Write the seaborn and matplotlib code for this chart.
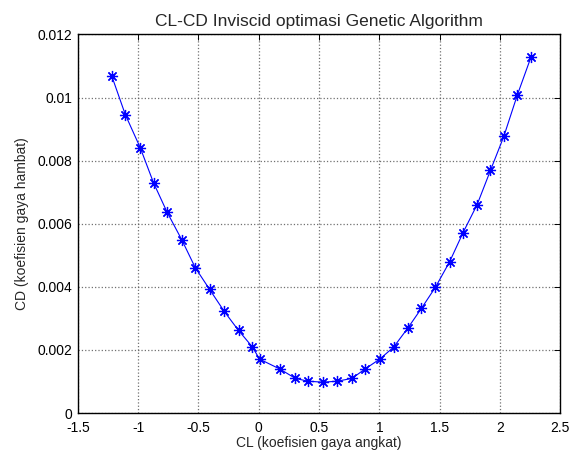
import matplotlib
matplotlib.use("Agg")
import matplotlib.pyplot as plt
import seaborn as sns
import pandas as pd

cl = [-1.218, -1.107, -0.983, -0.873, -0.762, -0.637, -0.527, -0.408, -0.286, -0.168,
      -0.056, 0.007, 0.178, 0.303, 0.408, 0.533, 0.649, 0.774, 0.878, 1.003,
      1.118, 1.235, 1.349, 1.465, 1.583, 1.694, 1.811, 1.921, 2.032, 2.143, 2.259]
cd = [0.01067, 0.00946, 0.00841, 0.00730, 0.00638, 0.00548, 0.00461, 0.00392, 0.00322, 0.00262,
      0.00211, 0.00171, 0.00139, 0.00110, 0.00101, 0.00098, 0.00101, 0.00110, 0.00139, 0.00171,
      0.00209, 0.00269, 0.00332, 0.00399, 0.00480, 0.00572, 0.00661, 0.00769, 0.00877, 0.01007, 0.01130]

xticks = [-1.5, -1, -0.5, 0, 0.5, 1, 1.5, 2, 2.5]
xticklabels = ["-1.5", "-1", "-0.5", "0", "0.5", "1", "1.5", "2", "2.5"]
yticks = [0, 0.002, 0.004, 0.006, 0.008, 0.01, 0.012]
yticklabels = ["0", "0.002", "0.004", "0.006", "0.008", "0.01", "0.012"]

title = "CL-CD Inviscid optimasi Genetic Algorithm"
xlabel = "CL (koefisien gaya angkat)"
ylabel = "CD (koefisien gaya hambat)"

sns.set_style("white")
plt.rcParams['font.family'] = ['Liberation Sans', 'DejaVu Sans']
plt.rcParams['font.size'] = 10

df = pd.DataFrame({"CL": cl, "CD": cd})

fig = plt.figure(figsize=(5.77, 4.59), dpi=100)
ax = fig.add_axes([0.135, 0.100, 0.836, 0.825])

sns.lineplot(data=df, x="CL", y="CD", ax=ax, color="#0000ff", linewidth=0.8,
             marker=(8, 2, 0), markersize=8, markeredgewidth=0.9,
             markeredgecolor="#0000ff", sort=False, estimator=None)

ax.set_xlim(-1.5, 2.5)
ax.set_ylim(0, 0.012)
ax.set_xticks(xticks)
ax.set_xticklabels(xticklabels)
ax.set_yticks(yticks)
ax.set_yticklabels(yticklabels)
ax.grid(True, color="0.3", linestyle=":", linewidth=0.9, alpha=0.8)
ax.tick_params(direction="in", top=True, right=True, length=4, width=0.7,
               labelsize=10, colors="black")
ax.tick_params(axis="x", pad=5.5)
ax.tick_params(axis="y", pad=4)
for s in ax.spines.values():
    s.set_visible(True)
    s.set_color("black")
    s.set_linewidth(1.0)

ax.set_title(title, fontsize=12.5, pad=6)
ax.set_xlabel(xlabel, fontsize=10, labelpad=1)
ax.set_ylabel(ylabel, fontsize=10, labelpad=6)

fig.savefig("out.png", dpi=100)
